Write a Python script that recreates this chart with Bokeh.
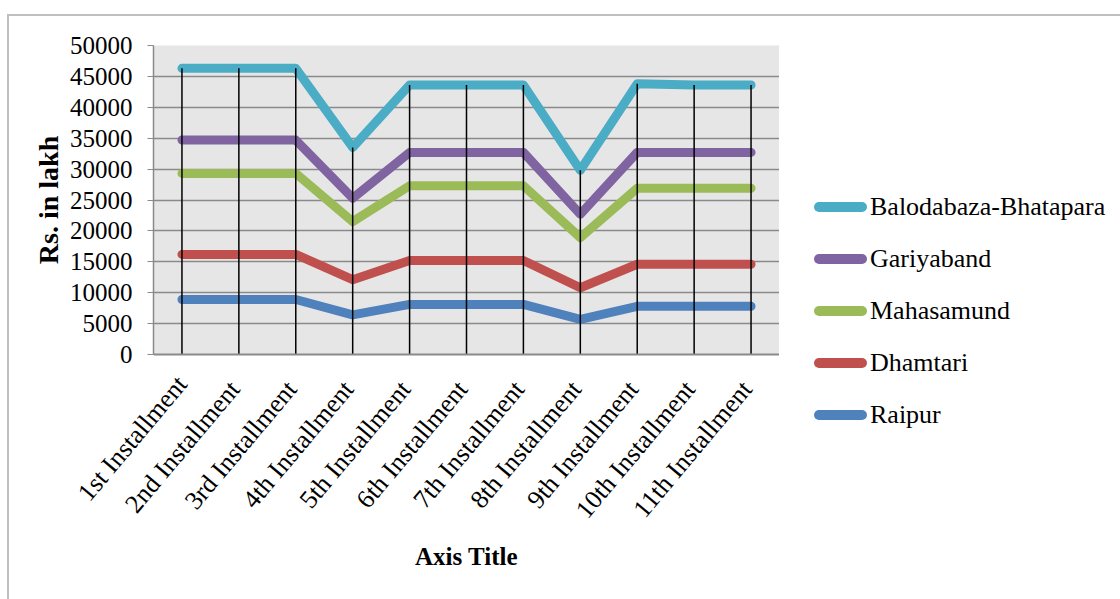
import math
from bokeh.plotting import figure
from bokeh.layouts import row
from bokeh.models import FixedTicker, Range1d, FactorRange, Div
from bokeh.embed import file_html
from bokeh.resources import INLINE

installments = ["1st Installment", "2nd  Installment", "3rd  Installment", "4th  Installment",
                "5th  Installment", "6th  Installment", "7th  Installment", "8th  Installment",
                "9th  Installment", "10th  Installment", "11th  Installment"]

raipur = [8900, 8900, 8900, 6400, 8100, 8100, 8100, 5700, 7800, 7800, 7800]
dhamtari = [16200, 16200, 16200, 12100, 15200, 15200, 15200, 10800, 14600, 14600, 14600]
mahasamund = [29300, 29300, 29300, 21500, 27300, 27300, 27300, 18900, 26900, 26900, 26900]
gariyaband = [34700, 34700, 34700, 25300, 32700, 32700, 32700, 22700, 32700, 32700, 32700]
balodabaza = [46300, 46300, 46300, 33500, 43600, 43600, 43600, 29800, 43800, 43600, 43600]

series_names = ["Raipur", "Dhamtari", "Mahasamund", "Gariyaband", "Balodabaza-Bhatapara"]
series_values = [raipur, dhamtari, mahasamund, gariyaband, balodabaza]
series_colors = ["#4f81bd", "#c0504d", "#9bbb59", "#8064a2", "#4bacc6"]

y_ticks = [0, 5000, 10000, 15000, 20000, 25000, 30000, 35000, 40000, 45000, 50000]

FONT = "Liberation Serif"

# ---- main chart ----
p = figure(x_range=FactorRange(*installments), y_range=Range1d(0, 50000),
           width=770, height=583, output_backend="svg", toolbar_location=None,
           min_border_left=144, min_border_right=0, min_border_top=29, min_border_bottom=245)

p.background_fill_color = "#e6e6e6"
p.border_fill_color = "white"
p.outline_line_color = None
p.xgrid.grid_line_color = None
p.ygrid.grid_line_color = "#8a8a8a"
p.ygrid.grid_line_width = 1.5

p.yaxis.ticker = FixedTicker(ticks=y_ticks)
p.yaxis.minor_tick_line_color = None
p.yaxis.major_tick_out = 6
p.yaxis.major_tick_in = 0
p.yaxis.major_tick_line_color = "#8a8a8a"
p.yaxis.axis_line_color = "#8a8a8a"
p.yaxis.axis_line_width = 1.5
p.yaxis.major_label_text_font = FONT
p.yaxis.major_label_text_font_size = "25px"
p.yaxis.major_label_text_color = "black"
p.yaxis.major_label_standoff = 15
p.yaxis.axis_label = "Rs. in lakh"
p.yaxis.axis_label_text_font = FONT
p.yaxis.axis_label_text_font_size = "28px"
p.yaxis.axis_label_text_font_style = "bold"
p.yaxis.axis_label_text_color = "black"
p.yaxis.axis_label_standoff = 3

p.xaxis.major_tick_out = 0
p.xaxis.major_tick_in = 0
p.xaxis.axis_line_color = "#8a8a8a"
p.xaxis.axis_line_width = 2
p.xaxis.major_label_orientation = math.radians(50)
p.xaxis.major_label_text_font = FONT
p.xaxis.major_label_text_font_size = "26px"
p.xaxis.major_label_text_color = "black"
p.xaxis.major_label_standoff = 25
p.xaxis.axis_label = "Axis Title"
p.xaxis.axis_label_text_font = FONT
p.xaxis.axis_label_text_font_size = "25px"
p.xaxis.axis_label_text_font_style = "bold"
p.xaxis.axis_label_text_color = "black"
p.xaxis.axis_label_standoff = 7

for name, vals, col in zip(series_names, series_values, series_colors):
    p.line(installments, vals, line_color=col, line_width=9,
           line_cap="round", line_join="round")

tops = [max(v) for v in zip(*series_values)]
p.segment(x0=installments, y0=[0] * len(installments), x1=installments, y1=tops,
          line_color="black", line_width=1.5)

# ---- legend panel (right side) ----
parts = ['<div style="position:relative;width:341px;height:583px;'
         'font-family:Liberation Serif, Times New Roman, serif;">']
first_center = 191
step = 52
for i, (name, col) in enumerate(zip(reversed(series_names), reversed(series_colors))):
    c = first_center + i * step
    parts.append(
        f'<div style="position:absolute;left:35px;top:{c - 5}px;width:53px;height:10px;'
        f'border-radius:5px;background:{col};"></div>')
    parts.append(
        f'<div style="position:absolute;left:91px;top:{c - 16}px;height:32px;line-height:32px;'
        f'font-family:Liberation Serif, Times New Roman, serif;font-size:26px;color:black;'
        f'white-space:nowrap;">{name}</div>')
parts.append('</div>')
legend_div = Div(text="".join(parts), width=341, height=583, margin=0,
                 styles={"font-family": "Liberation Serif, serif"})

layout = row(p, legend_div, spacing=0)
layout.styles = {"margin-left": "7px", "margin-top": "14px",
                 "border-top": "2px solid #bfbfbf", "border-left": "2px solid #bfbfbf"}

open("out.html", "w").write(file_html(layout, INLINE))
